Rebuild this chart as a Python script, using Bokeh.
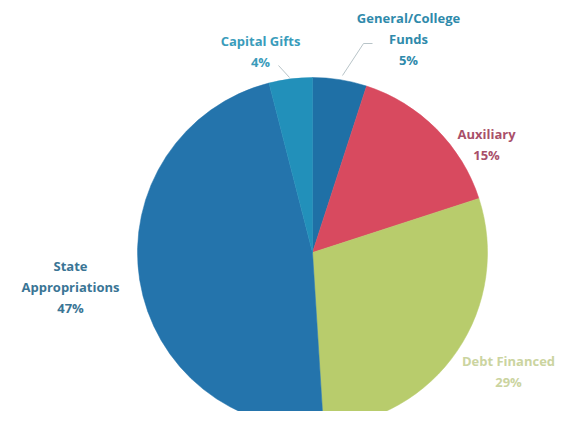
import math
from bokeh.plotting import figure
from bokeh.models import Range1d, ColumnDataSource
from bokeh.core.properties import value
from bokeh.embed import file_html
from bokeh.resources import INLINE

# Data (clockwise from 12 o'clock)
categories = ["General/College Funds", "Auxiliary", "Debt Financed", "State Appropriations", "Capital Gifts"]
shares = [5, 15, 29, 47, 4]
slice_colors = ["#1f70a6", "#d84a5f", "#b8cc6c", "#2474ac", "#2290ba"]

# Label text (lines) and style
label_lines = [
    ["General/College", "Funds", "5%"],
    ["Auxiliary", "15%"],
    ["Debt Financed", "29%"],
    ["State", "Appropriations", "47%"],
    ["Capital Gifts", "4%"],
]
label_colors = ["#2f8aab", "#a9506a", "#cbd4a0", "#3a7595", "#3a9cbb"]
# label anchor positions in window pixels (x center, first-line y)
label_x = [408, 486, 508, 70, 260]
label_y = [17, 133, 360, 265, 40]
line_gap = 21

W, H = 557, 411
OFF = 0

def X(px):
    return px - OFF

def Y(py):
    return H - (py - OFF)

p = figure(width=W, height=H, output_backend="svg", toolbar_location=None,
           x_range=Range1d(0, W), y_range=Range1d(0, H), min_border=0)
p.axis.visible = False
p.grid.visible = False
p.outline_line_color = None
p.background_fill_color = "white"
p.border_fill_color = "white"

cx, cy, r = 312, 252, 175
total = sum(shares)
starts, ends = [], []
cum = 0.0
for s in shares:
    starts.append(math.pi / 2 - 2 * math.pi * cum / total)
    cum += s
    ends.append(math.pi / 2 - 2 * math.pi * cum / total)

src = ColumnDataSource(dict(x=[X(cx)] * len(shares), y=[Y(cy)] * len(shares),
                            start=starts, end=ends, color=slice_colors))
p.wedge(x="x", y="y", radius=r, start_angle="start", end_angle="end",
        direction="clock", fill_color="color", line_color="color", line_width=0.5,
        source=src)

# leader lines
p.line([X(278), X(289)], [Y(65), Y(77)], line_color="#b8c4c8", line_width=1)
p.line([X(372), X(363), X(342)], [Y(43), Y(43), Y(75)], line_color="#b8c4c8", line_width=1)

tx, ty, tt, tc = [], [], [], []
for lines, lx, ly, col in zip(label_lines, label_x, label_y, label_colors):
    for i, t in enumerate(lines):
        tx.append(X(lx))
        ty.append(Y(ly + i * line_gap))
        tt.append(t)
        tc.append(col)
p.text(x=tx, y=ty, text=tt, text_color=tc, text_font=value("Open Sans"),
       text_font_style="bold", text_font_size="13px", text_align="center",
       text_baseline="middle")

open("out.html", "w").write(file_html(p, INLINE))
